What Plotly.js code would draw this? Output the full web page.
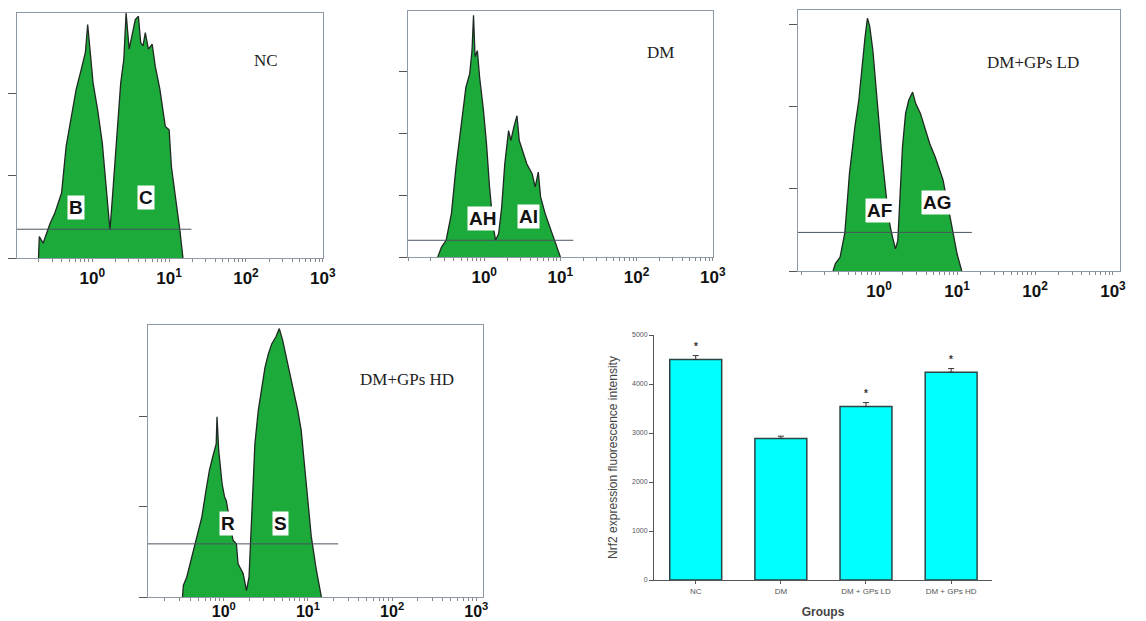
<!DOCTYPE html>
<html>
<head>
<meta charset="utf-8">
<script src="https://cdn.plot.ly/plotly-3.0.1.min.js"></script>
<style>
html,body{margin:0;padding:0;background:#fff;}
#chart{width:1146px;height:621px;}
</style>
</head>
<body>
<div id="chart"></div>
<script>
// ---------- Data: flow cytometry histograms (log10 fluorescence, event counts) ----------
const ncLog = [-0.70,-0.69,-0.64,-0.55,-0.49,-0.40,-0.34,-0.27,-0.21,-0.15,-0.09,-0.06,-0.03,0.01,0.07,0.13,0.18,0.23,0.26,0.31,0.37,0.41,0.44,0.48,0.52,0.56,0.60,0.63,0.66,0.69,0.73,0.78,0.82,0.88,0.95,1.00,1.03,1.10,1.14,1.18];
const ncCount = [0,26,18,42,54,79,136,172,205,227,250,284,254,213,180,140,87,34,71,140,213,241,298,254,270,290,294,262,258,274,254,260,233,205,160,156,111,63,34,0];

const dmLog = [-0.61,-0.56,-0.50,-0.43,-0.37,-0.30,-0.24,-0.19,-0.16,-0.14,-0.12,-0.09,-0.06,-0.01,0.03,0.07,0.12,0.15,0.19,0.23,0.27,0.32,0.35,0.39,0.43,0.46,0.50,0.56,0.63,0.67,0.71,0.74,0.80,0.89,0.95,1.00];
const dmCount = [0,16,27,70,145,210,274,296,333,390,323,333,290,237,183,113,48,27,38,81,150,204,188,210,228,188,172,150,134,113,137,97,70,38,16,0];

const ldLog = [-0.59,-0.56,-0.50,-0.44,-0.41,-0.38,-0.35,-0.31,-0.26,-0.22,-0.18,-0.15,-0.12,-0.08,-0.05,-0.01,0.03,0.08,0.12,0.16,0.21,0.24,0.27,0.30,0.34,0.38,0.43,0.47,0.53,0.59,0.65,0.72,0.78,0.82,0.87,0.91,0.95,1.00,1.06];
const ldCount = [0,9,17,46,82,119,143,176,208,249,285,308,298,269,233,188,147,102,66,46,27,37,102,151,192,208,218,204,192,172,155,139,123,111,86,66,46,21,0];

const hdLog = [-0.49,-0.48,-0.44,-0.38,-0.32,-0.26,-0.21,-0.17,-0.13,-0.09,-0.08,-0.06,-0.02,0.01,0.03,0.06,0.11,0.15,0.17,0.23,0.27,0.30,0.33,0.37,0.41,0.45,0.49,0.53,0.57,0.62,0.66,0.70,0.74,0.78,0.84,0.88,0.92,0.96,1.00,1.04,1.10,1.16];
const hdCount = [0,13,22,44,67,89,119,141,156,170,200,163,126,111,107,89,63,59,37,26,7,22,89,170,207,233,255,270,281,289,298,285,267,252,226,207,185,148,107,67,30,0];

// gate markers: [count level, right end (log10)]
const gateNC = [35, 1.29];
const gateDM = [27, 1.17];
const gateLD = [47, 1.19];
const gateHD = [59, 1.36];

const panelNames = ["NC", "DM", "DM+GPs LD", "DM+GPs HD"];
const gateLabels = [["B","C"], ["AH","AI"], ["AF","AG"], ["R","S"]];

const decadeVals = [1, 10, 100, 1000];
const decadeText = ["10<sup>0</sup>", "10<sup>1</sup>", "10<sup>2</sup>", "10<sup>3</sup>"];

// ---------- Data: bar chart ----------
const groups = ["NC", "DM", "DM + GPs LD", "DM + GPs HD"];
const nrf2 = [4500, 2890, 3540, 4240];
const nrf2Err = [80, 45, 80, 75];
const signif = ["*", "", "*", "*"];

// ---------- Layout helpers ----------
const W = 1146, H = 621;
const dx = (a, b) => [a / W, b / W];
const dy = (top, bottom) => [1 - bottom / H, 1 - top / H];
const px = (x) => x / W;
const py = (y) => 1 - y / H;

const GREEN = "#1caa3a";
const FRAME = "#8d99a6";

function hist(logs, counts, n) {
  return {
    type: "scatter", mode: "lines",
    x: logs.map(v => Math.pow(10, v)), y: counts,
    xaxis: "x" + (n === 1 ? "" : n), yaxis: "y" + (n === 1 ? "" : n),
    fill: "tozeroy", fillcolor: GREEN,
    line: {color: "#1f2a22", width: 1.3},
    hoverinfo: "skip", showlegend: false
  };
}

function histX(domain, range, anchor, tlen, fsize) {
  return {
    domain: domain, anchor: anchor, type: "log", range: range,
    showline: true, mirror: true, linecolor: FRAME, linewidth: 1,
    showgrid: false, zeroline: false,
    tickmode: "array", tickvals: decadeVals, ticktext: decadeText,
    ticks: tlen > 0 ? "outside" : "", ticklen: tlen, tickcolor: "rgba(0,0,0,0)",
    tickfont: {family: "Liberation Sans, Arial", size: fsize, color: "#111", weight: 700},
    minor: {ticks: "outside", ticklen: 3, tickcolor: "#888", dtick: "D1", showgrid: false}
  };
}
function histY(domain, range, tickvals, anchor) {
  return {
    domain: domain, anchor: anchor, range: range,
    showline: true, mirror: true, linecolor: FRAME, linewidth: 1,
    showgrid: false, zeroline: false,
    tickmode: "array", tickvals: tickvals,
    ticks: "outside", ticklen: 8, tickcolor: "#555",
    showticklabels: false
  };
}

const traces = [
  hist(ncLog, ncCount, 1),
  hist(dmLog, dmCount, 2),
  hist(ldLog, ldCount, 3),
  hist(hdLog, hdCount, 4),
  {
    type: "bar", x: [0, 1, 2, 3], y: nrf2, width: 0.61,
    xaxis: "x5", yaxis: "y5",
    marker: {color: "#00ffff", line: {color: "#2b4545", width: 1.5}},
    error_y: {type: "data", symmetric: false, array: nrf2Err, arrayminus: nrf2Err.map(() => 0),
              color: "#333", thickness: 1, width: 3},
    showlegend: false, hoverinfo: "skip"
  }
];

const layout = {
  width: W, height: H,
  margin: {l: 0, r: 0, t: 0, b: 0},
  paper_bgcolor: "#fff", plot_bgcolor: "rgba(0,0,0,0)",
  showlegend: false,
  xaxis: histX(dx(17, 323), [-0.98, 3.003], "y", 5, 17),
  yaxis: histY(dy(13, 258), [0, 298], [0, 100, 200], "x"),
  xaxis2: histX(dx(408, 713), [-1.0, 3.003], "y2", 5, 17),
  yaxis2: histY(dy(11, 257), [0, 397], [0, 100, 200, 300], "x2"),
  xaxis3: histX(dx(798, 1120), [-1.04, 3.09], "y3", 5, 17),
  yaxis3: histY(dy(10, 271), [0, 318], [0, 100, 200, 300], "x3"),
  xaxis4: histX(dx(148, 483), [-0.90, 3.08], "y4", 0, 16),
  yaxis4: histY(dy(325, 597), [0, 302], [0, 100, 200], "x4"),
  xaxis5: {
    domain: dx(654, 992), anchor: "y5", range: [-0.49, 3.48],
    showline: true, linecolor: "#555", linewidth: 1, showgrid: false, zeroline: false,
    tickmode: "array", tickvals: [0, 1, 2, 3], ticktext: groups,
    ticks: "outside", ticklen: 3, tickcolor: "#555",
    tickfont: {family: "Liberation Sans, Arial", size: 8, color: "#555"},
    title: {text: "Groups", font: {family: "Liberation Sans, Arial", size: 12, color: "#444", weight: 700}, standoff: 13}
  },
  yaxis5: {
    domain: dy(335, 580), anchor: "x5", range: [0, 5000],
    showline: true, linecolor: "#555", linewidth: 1, showgrid: false, zeroline: false,
    tickmode: "linear", tick0: 0, dtick: 1000,
    ticks: "outside", ticklen: 4, tickcolor: "#555",
    tickfont: {family: "Liberation Sans, Arial", size: 7, color: "#555"},
    title: {text: "Nrf2 expression fluorescence intensity", font: {family: "Liberation Sans, Arial", size: 12, color: "#444"}, standoff: 11}
  },
  shapes: [],
  annotations: []
};

// gate marker lines
[[gateNC, "x", "y"], [gateDM, "x2", "y2"], [gateLD, "x3", "y3"], [gateHD, "x4", "y4"]].forEach(([g, xr, yr]) => {
  layout.shapes.push({type: "line", xref: xr, yref: yr, x0: 0.05, x1: Math.pow(10, g[1]), y0: g[0], y1: g[0],
                      line: {color: "#4a5560", width: 1}});
});

// panel titles (serif)
const titlePos = [[266, 61], [660, 52], [1033, 62], [407, 379]];
panelNames.forEach((t, i) => {
  layout.annotations.push({xref: "paper", yref: "paper", x: px(titlePos[i][0]), y: py(titlePos[i][1]),
    text: t, showarrow: false, xanchor: "center", yanchor: "middle",
    font: {family: "Liberation Serif, Times New Roman", size: 17, color: "#222"}});
});

// region labels in white boxes
const labelPos = [[[76, 208], [146, 197]], [[482, 218], [528, 216]], [[879, 211], [937, 202]], [[228, 523], [280, 523]]];
gateLabels.forEach((pair, i) => {
  pair.forEach((t, j) => {
    layout.annotations.push({xref: "paper", yref: "paper", x: px(labelPos[i][j][0]), y: py(labelPos[i][j][1]),
      text: "<b>" + t + "</b>", showarrow: false, xanchor: "center", yanchor: "middle",
      bgcolor: "#ffffff", borderpad: 1,
      font: {family: "Liberation Sans, Arial", size: 19, color: "#111"}});
  });
});

// significance stars
signif.forEach((s, i) => {
  if (!s) return;
  layout.annotations.push({xref: "x5", yref: "y5", x: i, y: nrf2[i] + nrf2Err[i], yshift: 9,
    text: "<b>" + s + "</b>", showarrow: false, xanchor: "center", yanchor: "middle",
    font: {family: "Liberation Sans, Arial", size: 10, color: "#333"}});
});

Plotly.newPlot("chart", traces, layout, {staticPlot: true, displayModeBar: false});
</script>
</body>
</html>
